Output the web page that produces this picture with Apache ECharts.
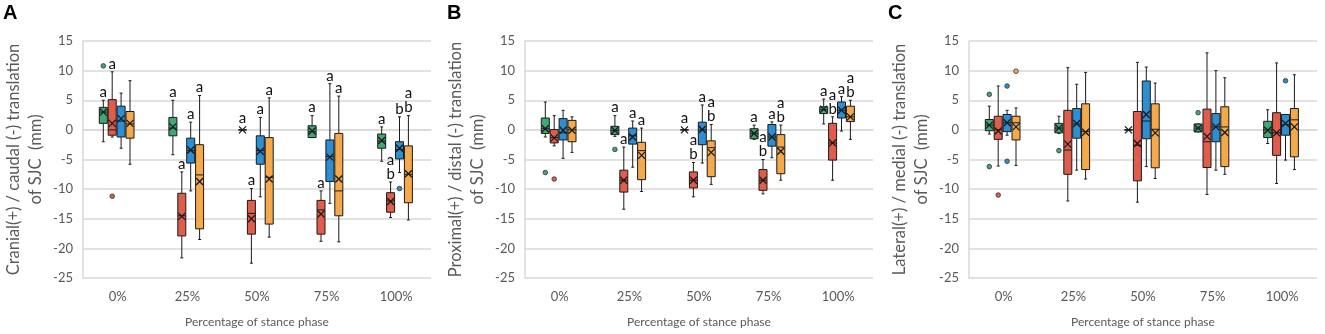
<!DOCTYPE html>
<html>
<head>
<meta charset="utf-8">
<script src="https://cdn.jsdelivr.net/npm/echarts@6/dist/echarts.min.js"></script>
<style>
  html, body { margin: 0; padding: 0; background: #fff; }
  #main { width: 1325px; height: 334px; }
</style>
</head>
<body>
<div id="main"></div>
<script>
const categories = ['0%', '25%', '50%', '75%', '100%'];
const groupColors = ['#3fa874', '#e05c4b', '#2d8fd3', '#f4a94a'];

// each entry: [low whisker, Q1, median, Q3, high whisker, mean]
const aGreen  = [[-2.0, 1.1, 3.0, 3.8, 5.0, 3.0], [-4.2, -1.0, 0.3, 2.1, 5.0, 0.5], [0, 0, 0, 0, 0, 0], [-1.3, -1.3, -0.3, 0.7, 2.4, -0.2], [-5.3, -3.1, -1.9, -0.7, 0.5, -1.8]];
const aRed    = [[-1.2, -0.9, 0.0, 5.1, 9.8, 1.1], [-21.6, -17.9, -14.5, -10.7, -7.1, -14.6], [-22.5, -17.6, -14.1, -11.9, -9.9, -15.0], [-18.8, -17.6, -13.5, -11.9, -10.3, -14.2], [-14.8, -13.9, -12.0, -10.6, -8.8, -12.1]];
const aBlue   = [[-3.1, -1.2, 1.5, 4.0, 6.2, 1.9], [-10.3, -5.6, -3.5, -1.4, 1.3, -3.4], [-11.3, -5.8, -3.5, -1.0, 2.1, -3.6], [-12.4, -8.7, -4.5, -1.7, 7.8, -4.6], [-7.2, -4.9, -3.3, -2.0, 2.2, -3.1]];
const aOrange = [[-5.8, -1.4, 1.0, 3.1, 8.3, 1.1], [-18.5, -16.7, -7.6, -2.5, 5.8, -8.7], [-18.1, -15.9, -8.0, -1.3, 5.4, -8.3], [-18.9, -14.5, -10.3, -0.6, 5.7, -8.3], [-15.2, -12.3, -7.5, -2.7, 2.4, -7.4]];

const bGreen  = [[-1.2, -0.6, 0.2, 2.0, 4.7, 0.2], [-1.1, -0.8, -0.1, 0.6, 2.4, -0.1], [0, 0, 0, 0, 0, 0], [-1.6, -1.5, -0.6, 0.2, 0.8, -0.6], [1.0, 2.75, 3.4, 3.9, 5.2, 3.5]];
const bRed    = [[-2.7, -2.2, -1.3, 0.05, 2.4, -1.35], [-13.4, -10.5, -8.5, -6.8, -2.9, -8.5], [-11.3, -9.8, -8.5, -7.1, -5.5, -8.5], [-10.8, -10.2, -8.5, -6.7, -5.0, -8.5], [-8.5, -5.1, -2.2, 1.1, 2.2, -2.2]];
const bBlue   = [[-4.8, -1.7, -0.5, 1.9, 3.3, -0.05], [-6.3, -2.4, -1.0, 0.3, 1.5, -1.2], [-5.6, -2.5, 0.0, 1.3, 4.2, 0.05], [-4.7, -2.75, -1.2, 0.9, 1.35, -1.2], [-0.2, 2.0, 3.3, 4.7, 5.6, 3.3]];
const bOrange = [[-3.8, -2.0, 0.0, 1.6, 2.2, -0.05], [-10.4, -8.4, -3.5, -2.1, 0.3, -4.3], [-9.2, -7.9, -3.0, -1.85, 0.9, -3.8], [-8.5, -7.4, -2.9, -0.8, 0.8, -3.6], [-1.6, 1.4, 2.2, 4.0, 5.0, 2.2]];

const cGreen  = [[-0.7, -0.15, 0.8, 1.75, 4.0, 0.8], [-0.6, -0.5, 0.3, 1.1, 2.3, 0.3], [0, 0, 0, 0, 0, 0], [-0.35, -0.35, 0.3, 1.0, 1.0, 0.3], [-2.3, -1.3, 0.0, 1.45, 3.4, -0.05]];
const cRed    = [[-6.1, -1.6, 0.0, 2.3, 7.4, -0.2], [-12.0, -7.5, -3.4, 3.3, 10.5, -2.4], [-12.2, -8.6, -2.6, 3.1, 11.4, -2.3], [-10.9, -6.35, -2.0, 3.5, 13.0, -1.1], [-9.05, -4.3, -0.5, 2.9, 11.3, -0.5]];
const cBlue   = [[-0.9, -0.3, 1.2, 2.6, 3.3, 1.2], [-6.8, -1.4, 1.0, 3.6, 7.7, 1.07], [-6.2, -1.5, 1.5, 8.25, 10.6, 2.6], [-6.8, -2.0, 0.5, 2.75, 10.0, 0.5], [-5.1, -0.9, 0.9, 2.6, 2.6, 1.07]];
const cOrange = [[-6.0, -1.7, 1.2, 2.3, 3.7, 0.5], [-8.3, -6.7, -0.3, 4.4, 9.7, -0.4], [-8.2, -6.4, 0.1, 4.4, 7.9, -0.5], [-7.5, -6.2, 0.5, 3.9, 8.8, -0.45], [-6.7, -4.55, 1.7, 3.6, 9.3, 0.5]];

// significance letters per category
const aLetters = [['a', 'a', 'a', 'a', 'a'], ['a', 'a', 'a', 'a', 'a\nb'], ['', 'a', 'a', 'a', 'b'], ['', 'a', 'a', 'a', 'a\nb']];
const bLetters = [['', 'a', 'a', 'a', 'a'], ['', 'a', 'a\nb', 'a\nb', 'a\nb'], ['', 'a', 'a', 'a', 'a'], ['', 'a', 'a\nb', 'a\nb', 'a\nb']];
const cLetters = [['', '', '', '', ''], ['', '', '', '', ''], ['', '', '', '', ''], ['', '', '', '', '']];

// outliers: [category index, group index, value]
const aOutliers = [[0, 0, 10.8], [0, 1, -11.2], [4, 2, -9.9]];
const bOutliers = [[0, 0, -7.2], [0, 1, -8.3], [1, 0, -3.3]];
const cOutliers = [[0, 0, 6.0], [0, 0, -6.2], [0, 1, -11.0], [0, 2, 7.4], [0, 2, -5.3], [0, 3, 9.9], [1, 0, -3.5], [3, 0, 2.9], [4, 2, 8.3]];

const panels = [
  { letter: 'A', left: 83, title: 'Cranial(+) / caudal (-) translation\nof SJC  (mm)', groups: [aGreen, aRed, aBlue, aOrange], letters: aLetters, outliers: aOutliers, letterX: 3 },
  { letter: 'B', left: 525, title: 'Proximal(+) / distal (-) translation\nof SJC  (mm)', groups: [bGreen, bRed, bBlue, bOrange], letters: bLetters, outliers: bOutliers, letterX: 447 },
  { letter: 'C', left: 969, title: 'Lateral(+) / medial (-) translation\nof SJC  (mm)', groups: [cGreen, cRed, cBlue, cOrange], letters: cLetters, outliers: cOutliers, letterX: 888 }
];

const FONT = 'Lato, "Noto Sans", sans-serif';
const TEXT_COLOR = '#595959';
const OFFSETS = [-14.5, -5.6, 3.3, 12.2];
const HALF_W = 4;

function boxRenderer(g, letters) {
  return function (params, api) {
    const c = api.value(0);
    const cx = api.coord([c, 0])[0] + OFFSETS[g];
    const yLo = api.coord([c, api.value(1)])[1];
    const yQ1 = api.coord([c, api.value(2)])[1];
    const yMd = api.coord([c, api.value(3)])[1];
    const yQ3 = api.coord([c, api.value(4)])[1];
    const yHi = api.coord([c, api.value(5)])[1];
    const yMn = api.coord([c, api.value(6)])[1];
    const ln = { stroke: '#1a1a1a', lineWidth: 1 };
    const children = [
      { type: 'line', shape: { x1: cx, y1: yHi, x2: cx, y2: yQ3 }, style: ln },
      { type: 'line', shape: { x1: cx, y1: yQ1, x2: cx, y2: yLo }, style: ln },
      { type: 'line', shape: { x1: cx - 1.5, y1: yHi, x2: cx + 1.5, y2: yHi }, style: ln },
      { type: 'line', shape: { x1: cx - 1.5, y1: yLo, x2: cx + 1.5, y2: yLo }, style: ln },
      { type: 'rect', shape: { x: cx - HALF_W, y: yQ3, width: HALF_W * 2, height: yQ1 - yQ3 },
        style: { fill: groupColors[g], stroke: '#1a1a1a', lineWidth: 1 } },
      { type: 'line', shape: { x1: cx - HALF_W, y1: yMd, x2: cx + HALF_W, y2: yMd }, style: ln },
      { type: 'line', shape: { x1: cx - 3.5, y1: yMn - 3.5, x2: cx + 3.5, y2: yMn + 3.5 }, style: { stroke: '#1a1a1a', lineWidth: 1.3 } },
      { type: 'line', shape: { x1: cx - 3.5, y1: yMn + 3.5, x2: cx + 3.5, y2: yMn - 3.5 }, style: { stroke: '#1a1a1a', lineWidth: 1.3 } }
    ];
    const txt = letters[params.dataIndex];
    if (txt) {
      children.push({
        type: 'text',
        style: {
          text: txt, x: cx, y: Math.min(yHi, yMn - 4) - 1,
          align: 'center', verticalAlign: 'bottom',
          fontSize: 15, lineHeight: 14, fontFamily: FONT, fill: '#111'
        }
      });
    }
    return { type: 'group', children: children };
  };
}

function outlierRenderer(params, api) {
  const c = api.value(0);
  const g = api.value(1);
  const p = api.coord([c, api.value(2)]);
  return {
    type: 'circle',
    shape: { cx: p[0] + OFFSETS[g], cy: p[1], r: 2.3 },
    style: { fill: groupColors[g], stroke: '#333', lineWidth: 0.8 }
  };
}

const grids = [], xAxes = [], yAxes = [], series = [], graphics = [];

panels.forEach(function (p, k) {
  grids.push({ left: p.left, top: 41, width: 348, height: 237 });
  xAxes.push({
    type: 'category', gridIndex: k, data: categories, boundaryGap: true,
    axisTick: { show: false },
    axisLine: { lineStyle: { color: '#d9d9d9', width: 1.5 } },
    axisLabel: { fontSize: 13, color: TEXT_COLOR, fontFamily: FONT, margin: 12 },
    name: 'Percentage of stance phase', nameLocation: 'middle', nameGap: 38,
    nameTextStyle: { fontSize: 12, color: TEXT_COLOR, fontFamily: FONT }
  });
  yAxes.push({
    type: 'value', gridIndex: k, min: -25, max: 15, interval: 5,
    axisLine: { show: true, lineStyle: { color: '#d9d9d9', width: 1.5 } },
    axisTick: { show: false },
    splitLine: { lineStyle: { color: '#d9d9d9', width: 1.5 } },
    axisLabel: { fontSize: 13, color: TEXT_COLOR, fontFamily: FONT, margin: 10 },
    name: p.title, nameLocation: 'middle', nameRotate: 90, nameGap: 36,
    nameTextStyle: { fontSize: 16.5, lineHeight: 22, color: TEXT_COLOR, fontFamily: FONT, align: 'center' }
  });
  p.groups.forEach(function (stats, g) {
    series.push({
      type: 'custom', xAxisIndex: k, yAxisIndex: k,
      renderItem: boxRenderer(g, p.letters[g]),
      encode: { x: 0, y: [1, 2, 3, 4, 5, 6] },
      data: stats.map(function (s, i) { return [i].concat(s); }),
      z: 3
    });
  });
  series.push({
    type: 'custom', xAxisIndex: k, yAxisIndex: k,
    renderItem: outlierRenderer,
    encode: { x: 0, y: 2 },
    data: p.outliers,
    z: 4
  });
  graphics.push({
    type: 'text', left: p.letterX, top: 3,
    style: { text: p.letter, font: 'bold 20px "Liberation Sans", Arial, sans-serif', fill: '#000' }
  });
});

const chart = echarts.init(document.getElementById('main'), null, { renderer: 'canvas' });
chart.setOption({
  animation: false,
  backgroundColor: '#fff',
  grid: grids,
  xAxis: xAxes,
  yAxis: yAxes,
  series: series,
  graphic: graphics
});
</script>
</body>
</html>
